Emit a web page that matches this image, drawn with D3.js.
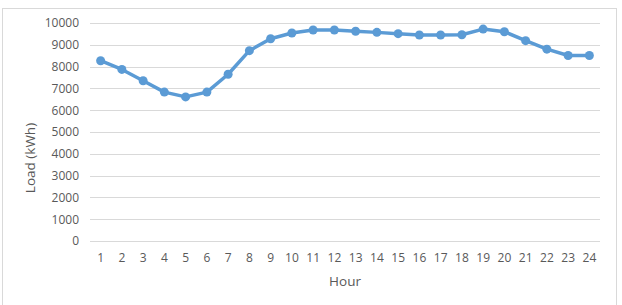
<!DOCTYPE html>
<meta charset="utf-8">
<html>
<head>
<style>
  body { margin: 0; background: #fff; }
  svg text { font-family: "Open Sans", sans-serif; fill: #595959; }
</style>
</head>
<body>
<svg width="622" height="305"></svg>
<script src="https://d3js.org/d3.v7.min.js"></script>
<script>
// hourly load readings
var hours = [1, 2, 3, 4, 5, 6, 7, 8, 9, 10, 11, 12, 13, 14, 15, 16, 17, 18, 19, 20, 21, 22, 23, 24];
var load = [8270, 7870, 7350, 6830, 6610, 6830, 7650, 8730, 9280, 9540, 9680, 9680,
            9620, 9570, 9510, 9450, 9450, 9460, 9720, 9600, 9190, 8800, 8510, 8510];
var yTicks = [0, 1000, 2000, 3000, 4000, 5000, 6000, 7000, 8000, 9000, 10000];

var svg = d3.select("svg"),
    margin = {top: 23, right: 22, bottom: 64, left: 90},
    width = +svg.attr("width") - margin.left - margin.right,
    height = +svg.attr("height") - margin.top - margin.bottom;

// chart area border
svg.append("rect")
    .attr("x", 2.5).attr("y", 8.5)
    .attr("width", 614).attr("height", 310)
    .attr("fill", "none")
    .attr("stroke", "#d9d9d9");

var g = svg.append("g").attr("transform", "translate(" + margin.left + "," + margin.top + ")");

var x = d3.scaleBand().domain(hours).range([0, width]);
var y = d3.scaleLinear().domain([0, 10000]).range([height, 0]);

// gridlines
g.append("g")
    .selectAll("line")
    .data(yTicks)
    .enter().append("line")
    .attr("x1", 0).attr("x2", width)
    .attr("y1", function(d) { return Math.round(y(d)) + 0.5; })
    .attr("y2", function(d) { return Math.round(y(d)) + 0.5; })
    .attr("stroke", "#d9d9d9")
    .attr("stroke-width", 1);

var yAxis = g.append("g")
    .call(d3.axisLeft(y).tickValues(yTicks).tickFormat(d3.format("d")).tickSize(0).tickPadding(11));
yAxis.select(".domain").remove();
yAxis.selectAll("text").style("font-size", "12px").attr("fill", "#595959");

var xAxis = g.append("g")
    .attr("transform", "translate(0," + height + ")")
    .call(d3.axisBottom(x).tickSize(0).tickPadding(12));
xAxis.select(".domain").remove();
xAxis.selectAll("text").style("font-size", "12px").attr("fill", "#595959");

svg.append("text")
    .attr("x", margin.left + width / 2)
    .attr("y", 286)
    .attr("text-anchor", "middle")
    .style("font-size", "13.5px")
    .text("Hour");

svg.append("text")
    .attr("transform", "translate(35,158) rotate(-90)")
    .attr("text-anchor", "middle")
    .style("font-size", "13.5px")
    .text("Load (kWh)");

var line = d3.line()
    .x(function(d, i) { return x(hours[i]) + x.bandwidth() / 2; })
    .y(function(d) { return y(d); });

g.append("path")
    .datum(load)
    .attr("fill", "none")
    .attr("stroke", "#5b9bd5")
    .attr("stroke-width", 3.5)
    .attr("stroke-linejoin", "round")
    .attr("d", line);

g.selectAll("circle")
    .data(load)
    .enter().append("circle")
    .attr("cx", function(d, i) { return x(hours[i]) + x.bandwidth() / 2; })
    .attr("cy", function(d) { return y(d); })
    .attr("r", 4.5)
    .attr("fill", "#5b9bd5");
</script>
</body>
</html>
